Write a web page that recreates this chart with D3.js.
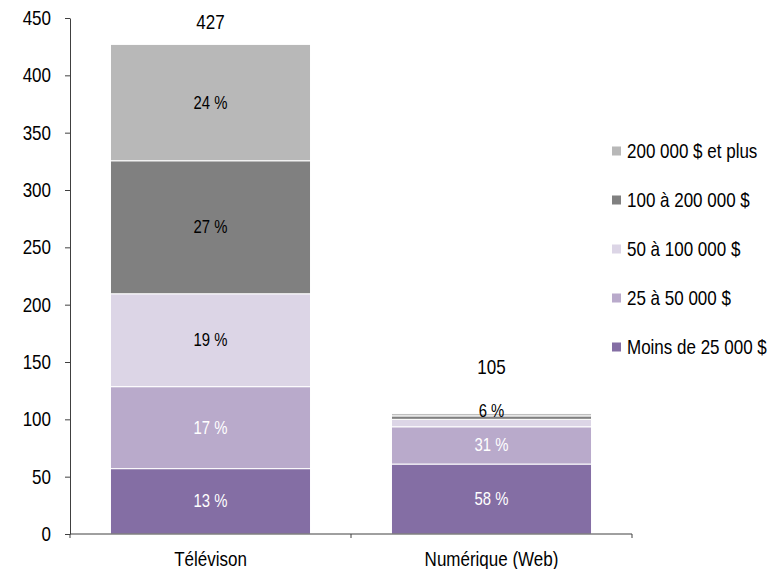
<!DOCTYPE html>
<html>
<head>
<meta charset="utf-8">
<script src="https://cdn.jsdelivr.net/npm/d3@7"></script>
<style>
  html, body { margin: 0; padding: 0; background: #ffffff; }
  svg { display: block; font-family: "Liberation Sans", Arial, sans-serif; }
</style>
</head>
<body>
<svg id="chart" width="782" height="569"></svg>
<script>
// Categories (x axis)
const categories = ["Télévison", "Numérique (Web)"];

// Budget brackets, bottom to top of each stack
const brackets = ["Moins de 25 000 $", "25 à 50 000 $", "50 à 100 000 $", "100 à 200 000 $", "200 000 $ et plus"];

// Values per bracket for each category
const tvValues  = [57, 71.5, 81, 116, 101.5];
const webValues = [61, 32.5, 6.5, 3, 2];

// Totals shown above each stack
const totals = [427, 105];

// Percentage labels shown inside the segments ("" = no label)
const tvLabels  = ["13 %", "17 %", "19 %", "27 %", "24 %"];
const webLabels = ["58 %", "31 %", "6 %", "", ""];

// Y axis ticks
const yTicks = [0, 50, 100, 150, 200, 250, 300, 350, 400, 450];

const colors = ["#846ea4", "#b9aacb", "#dcd5e6", "#808080", "#b8b8b8"];
const labelColors = ["#ffffff", "#ffffff", "#000000", "#000000", "#000000"];

// Condensed text: glyphs are squeezed horizontally to get a narrow face
const SX = 0.85;
function narrow(sel) {
  sel.each(function () {
    const t = d3.select(this);
    const x0 = +t.attr("x") || 0;
    t.attr("x", x0 / SX).attr("transform", `scale(${SX},1)`);
  });
}

const svg = d3.select("#chart");

const x = d3.scaleBand()
  .domain(categories)
  .range([70, 632])
  .paddingInner(0.288)
  .paddingOuter(0.144);

const y = d3.scaleLinear()
  .domain([0, 450])
  .range([534, 18]);

const valuesByCat = [tvValues, webValues];
const labelsByCat = [tvLabels, webLabels];

// Build stacked segments
const segments = [];
categories.forEach((cat, ci) => {
  let acc = 0;
  valuesByCat[ci].forEach((v, bi) => {
    segments.push({ cat, ci, bi, y0: acc, y1: acc + v, label: labelsByCat[ci][bi] });
    acc += v;
  });
});

// Bars
svg.append("g")
  .selectAll("rect")
  .data(segments)
  .join("rect")
  .attr("x", d => x(d.cat))
  .attr("width", x.bandwidth())
  .attr("y", d => y(d.y1))
  .attr("height", d => y(d.y0) - y(d.y1))
  .attr("fill", d => colors[d.bi])
  .attr("stroke", "#ffffff")
  .attr("stroke-width", 1);

// Segment labels
svg.append("g")
  .selectAll("text")
  .data(segments.filter(d => d.label))
  .join("text")
  .attr("x", d => x(d.cat) + x.bandwidth() / 2)
  .attr("y", d => {
    const h = y(d.y0) - y(d.y1);
    // thin segments get their label just above the segment
    return h < 20 ? y(d.y1) - 2 : (y(d.y0) + y(d.y1)) / 2 + 6;
  })
  .attr("text-anchor", "middle")
  .attr("font-size", 17.5)
  .attr("fill", d => labelColors[d.bi])
  .text(d => d.label)
  .call(narrow);

// Totals above stacks
const totalOffsets = [15, 40];
svg.append("g")
  .selectAll("text")
  .data(categories)
  .join("text")
  .attr("x", d => x(d) + x.bandwidth() / 2)
  .attr("y", (d, i) => y(totals[i]) - totalOffsets[i])
  .attr("text-anchor", "middle")
  .attr("font-size", 20)
  .attr("fill", "#000")
  .text((d, i) => totals[i])
  .call(narrow);

// Y axis
const yAxis = svg.append("g")
  .attr("transform", "translate(70,0)")
  .call(d3.axisLeft(y).tickValues(yTicks).tickSize(5).tickPadding(14).tickSizeOuter(0));
yAxis.select(".domain").attr("stroke", "#404040");
yAxis.selectAll(".tick line").attr("stroke", "#404040");
yAxis.selectAll(".tick text")
  .attr("font-size", 20)
  .attr("font-family", "Liberation Sans, Arial, sans-serif")
  .attr("fill", "#000")
  .call(narrow);

// X axis
const xg = svg.append("g");
xg.append("line")
  .attr("x1", 70).attr("x2", 632)
  .attr("y1", y(0)).attr("y2", y(0))
  .attr("stroke", "#404040");
const step = x.step();
const edges = [x.range()[0], x.range()[0] + step, x.range()[1]];
xg.selectAll(".xt")
  .data(edges)
  .join("line")
  .attr("class", "xt")
  .attr("x1", d => d).attr("x2", d => d)
  .attr("y1", y(0)).attr("y2", y(0) + 4)
  .attr("stroke", "#404040");
xg.selectAll(".xl")
  .data(categories)
  .join("text")
  .attr("class", "xl")
  .attr("x", d => x(d) + x.bandwidth() / 2)
  .attr("y", 566)
  .attr("text-anchor", "middle")
  .attr("font-size", 20)
  .attr("fill", "#000")
  .text(d => d)
  .call(narrow);

// Legend (top entry is the top of the stack)
const legendOrder = brackets.map((b, i) => i).reverse();
const lg = svg.append("g");
const ly = d3.scalePoint().domain(legendOrder).range([151, 347]);
legendOrder.forEach(i => {
  lg.append("rect")
    .attr("x", 612).attr("y", ly(i) - 4.5)
    .attr("width", 9).attr("height", 9)
    .attr("fill", colors[i]);
  lg.append("text")
    .attr("x", 627).attr("y", ly(i) + 7)
    .attr("font-size", 20)
    .attr("fill", "#000")
    .text(brackets[i])
    .call(narrow);
});
</script>
</body>
</html>
